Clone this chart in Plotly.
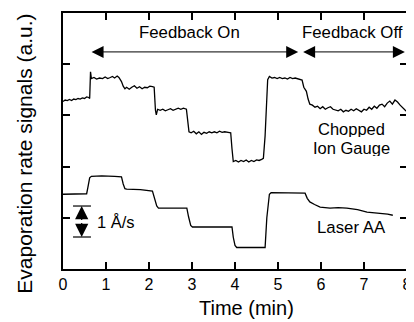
import plotly.graph_objects as go

# ---- Data (time in min, signal in a.u.) ----
ion_t = [0.00, 0.05, 0.10, 0.15, 0.20, 0.25, 0.30, 0.35, 0.40, 0.45, 0.50, 0.55, 0.60, 0.62,
         0.64, 0.66, 0.72, 0.78, 0.85, 0.92, 0.98, 1.04, 1.10, 1.15, 1.20, 1.26, 1.30,
         1.36, 1.40, 1.44, 1.48, 1.54, 1.60, 1.66, 1.72, 1.78, 1.84, 1.90, 1.96, 2.02, 2.08,
         2.12, 2.15, 2.17, 2.20, 2.26, 2.32, 2.38, 2.44, 2.50, 2.56, 2.62, 2.68, 2.74, 2.80,
         2.87, 2.90, 2.93, 2.98, 3.04, 3.10, 3.16, 3.22, 3.28, 3.34, 3.40, 3.46, 3.52, 3.58,
         3.64, 3.70, 3.76, 3.84, 3.90, 3.93, 3.96, 4.02, 4.08, 4.14, 4.20, 4.26, 4.32, 4.38,
         4.44, 4.50, 4.56, 4.62, 4.66, 4.70, 4.73, 4.76, 4.80, 4.86, 4.92, 4.98, 5.04, 5.10,
         5.16, 5.22, 5.28, 5.34, 5.40, 5.46, 5.52, 5.56, 5.60, 5.63, 5.66, 5.70, 5.74, 5.80,
         5.86, 5.92, 5.98, 6.04, 6.10, 6.16, 6.22, 6.28, 6.34, 6.40, 6.46, 6.52, 6.58, 6.64,
         6.70, 6.76, 6.82, 6.88, 6.94, 7.00, 7.06, 7.12, 7.18, 7.24, 7.30, 7.36, 7.42, 7.48,
         7.54, 7.60, 7.66, 7.72, 7.78, 7.84, 7.90, 7.96, 8.00]
ion_v = [3.27, 3.30, 3.29, 3.31, 3.29, 3.32, 3.31, 3.33, 3.32, 3.34, 3.33, 3.36, 3.35, 3.33,
         3.85, 3.72, 3.74, 3.71, 3.73, 3.72, 3.75, 3.72, 3.74, 3.76, 3.73, 3.77, 3.74,
         3.66, 3.57, 3.52, 3.55, 3.51, 3.55, 3.58, 3.53, 3.56, 3.52, 3.55, 3.54, 3.57, 3.56,
         3.55, 3.10, 3.01, 3.12, 3.10, 3.12, 3.09, 3.11, 3.13, 3.10, 3.12, 3.14, 3.12, 3.14,
         3.12, 2.85, 2.68, 2.66, 2.69, 2.64, 2.68, 2.63, 2.67, 2.65, 2.68, 2.66, 2.68, 2.66,
         2.69, 2.67, 2.68, 2.67, 2.66, 2.35, 2.10, 2.12, 2.09, 2.12, 2.10, 2.13, 2.09, 2.12,
         2.10, 2.13, 2.12, 2.14, 2.16, 2.60, 3.30, 3.70, 3.76, 3.73, 3.74, 3.72, 3.74, 3.72,
         3.73, 3.71, 3.74, 3.72, 3.73, 3.71, 3.70, 3.69, 3.55, 3.50, 3.47, 3.32, 3.22, 3.20,
         3.16, 3.18, 3.13, 3.17, 3.12, 3.15, 3.17, 3.12, 3.11, 3.09, 3.12, 3.07, 3.10, 3.08,
         3.12, 3.09, 3.13, 3.10, 3.07, 3.12, 3.10, 3.16, 3.12, 3.18, 3.14, 3.20, 3.22, 3.17,
         3.24, 3.28, 3.22, 3.30, 3.26, 3.20, 3.14, 3.10, 3.07]

laser_t = [0.00, 0.30, 0.55, 0.58, 0.62, 0.66, 0.90, 1.20, 1.36, 1.40, 1.44, 1.48, 1.80,
           2.08, 2.13, 2.18, 2.22, 2.50, 2.88, 2.92, 2.97, 3.01, 3.30, 3.93, 3.96, 4.00,
           4.04, 4.30, 4.70, 4.74, 4.80, 4.84, 5.20, 5.63, 5.68, 5.74, 5.85, 5.98, 6.21,
           6.40, 6.60, 6.85, 7.07, 7.37, 7.55, 7.67]
laser_v = [1.46, 1.46, 1.47, 1.60, 1.78, 1.81, 1.82, 1.81, 1.80, 1.66, 1.57, 1.56, 1.55,
           1.52, 1.38, 1.23, 1.19, 1.19, 1.19, 1.02, 0.85, 0.82, 0.82, 0.82, 0.62, 0.46,
           0.42, 0.42, 0.42, 1.00, 1.46, 1.49, 1.49, 1.48, 1.38, 1.31, 1.26, 1.21, 1.19,
           1.20, 1.19, 1.16, 1.11, 1.09, 1.07, 1.05]

x_ticks = [0, 1, 2, 3, 4, 5, 6, 7, 8]
x_title = "Time (min)"
y_title = "Evaporation rate signals (a.u.)"

FONT = "Liberation Sans, Arial, Helvetica, sans-serif"

fig = go.Figure()
fig.add_trace(go.Scatter(x=ion_t, y=ion_v, mode="lines",
                         line=dict(color="black", width=1.3), hoverinfo="skip"))
fig.add_trace(go.Scatter(x=laser_t, y=laser_v, mode="lines",
                         line=dict(color="black", width=1.3), hoverinfo="skip"))

ann = []
# Double arrows
for x0, x1 in [(0.63, 5.47), (5.55, 7.95)]:
    ann.append(dict(x=x1, y=4.24, ax=x0, ay=4.24, xref="x", yref="y", axref="x", ayref="y",
                    text="", showarrow=True, arrowhead=2, startarrowhead=2,
                    arrowside="end+start", arrowsize=2.4, startarrowsize=2.4,
                    arrowwidth=1, arrowcolor="black"))
# Scale bar arrows
for yend in [1.23, 0.625]:
    ann.append(dict(x=0.435, y=yend, ax=0.435, ay=0.93, xref="x", yref="y", axref="x", ayref="y",
                    text="", showarrow=True, arrowhead=2, arrowsize=2.2,
                    arrowwidth=1.2, arrowcolor="black"))

def txt(x, y, s, size=17, xanchor="center", height=None):
    d = dict(x=x, y=y, xref="x", yref="y", text=s, showarrow=False,
             xanchor=xanchor, yanchor="middle",
             font=dict(family=FONT, size=size, color="black"))
    if height:
        d["height"] = height
    ann.append(d)

txt(2.95, 4.61, "Feedback On", 16.8)
txt(6.74, 4.61, "Feedback Off", 16.8)
txt(6.72, 2.75, "Chopped", 16.5, height=17)
txt(6.72, 2.38, "Ion Gauge", 16.5, height=17)
txt(6.72, 0.82, "Laser AA", 16.8)
txt(0.74, 0.92, "1 Å/s", 16.5, xanchor="left")

ann.append(dict(x=0.532, y=-0.152, xref="paper", yref="paper", text=x_title, showarrow=False,
                xanchor="center", yanchor="middle", font=dict(family=FONT, size=20, color="black")))
ann.append(dict(x=-0.113, y=0.451, xref="paper", yref="paper", text=y_title, showarrow=False,
                textangle=-90, xanchor="center", yanchor="middle",
                font=dict(family=FONT, size=21, color="black")))

shapes = [
    dict(type="line", xref="x", yref="y", x0=0.233, x1=0.65, y0=1.23, y1=1.23,
         line=dict(color="black", width=1.2)),
    dict(type="line", xref="x", yref="y", x0=0.233, x1=0.65, y0=0.625, y1=0.625,
         line=dict(color="black", width=1.2)),
]

# The page body has an 8px default margin, so the figure is sized/offset to compensate.
fig.update_layout(
    width=406, height=314,
    margin=dict(l=55, r=7, t=5, b=53, autoexpand=False),
    paper_bgcolor="white", plot_bgcolor="white",
    showlegend=False,
    annotations=ann, shapes=shapes,
    font=dict(family=FONT, size=16, color="black"),
)
fig.update_xaxes(range=[0, 8], tickvals=x_ticks, ticktext=[str(v) for v in x_ticks],
                 ticks="inside", ticklen=7, tickwidth=1.5, tickcolor="black",
                 showline=True, linecolor="black", linewidth=1.5, mirror="ticks",
                 showgrid=False, zeroline=False, tickfont=dict(family=FONT, size=16),
                 automargin=False)
fig.update_yaxes(range=[0, 5], tickvals=[0, 1, 2, 3, 4, 5], showticklabels=False,
                 ticks="inside", ticklen=7, tickwidth=1.5, tickcolor="black",
                 showline=True, linecolor="black", linewidth=1.5, mirror="ticks",
                 showgrid=False, zeroline=False, automargin=False)

fig.write_html("out.html")
